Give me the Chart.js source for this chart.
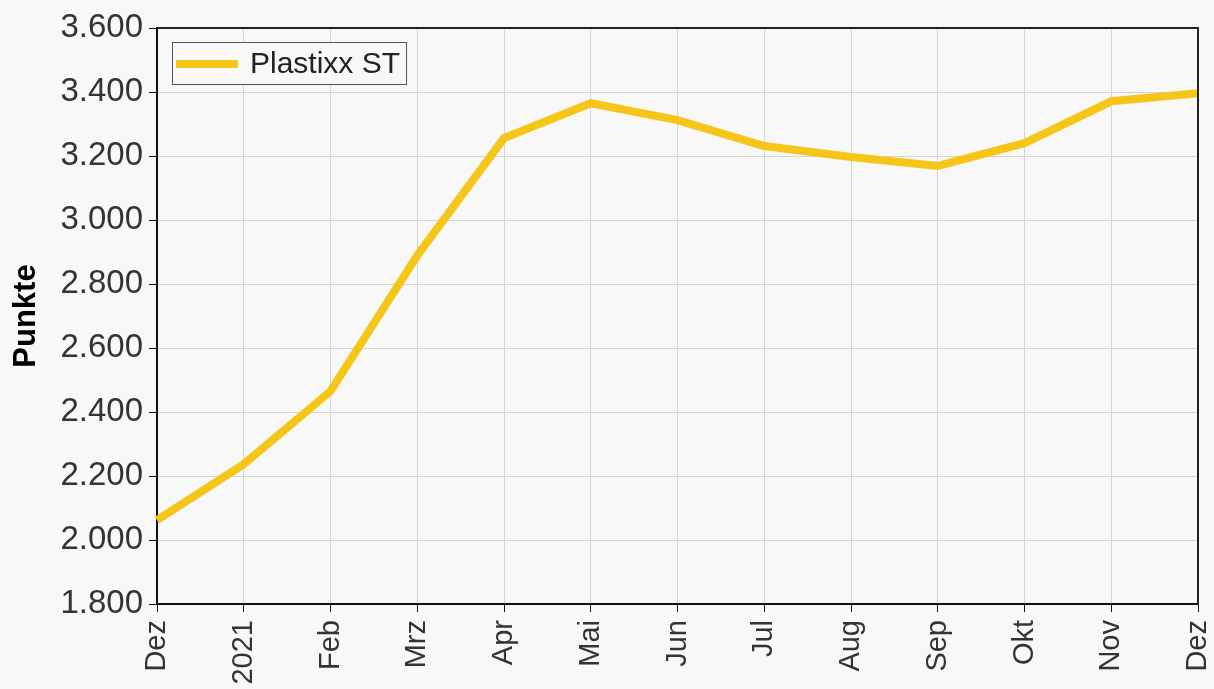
<!DOCTYPE html>
<html>
<head>
<meta charset="utf-8">
<script src="https://cdn.jsdelivr.net/npm/chart.js@4"></script>
<style>
  html, body { margin: 0; padding: 0; background: #f8f8f8; }
  #wrap { width: 1214px; height: 689px; }
</style>
</head>
<body>
<div id="wrap"><canvas id="chart" width="1214" height="689"></canvas></div>
<script>
// months, Dez 2020 .. Dez 2021
const months = ['Dez', '2021', 'Feb', 'Mrz', 'Apr', 'Mai', 'Jun', 'Jul', 'Aug', 'Sep', 'Okt', 'Nov', 'Dez'];
const plastixxST = [2062, 2237, 2465, 2889, 3256, 3365, 3312, 3231, 3197, 3169, 3240, 3371, 3396];
const seriesName = 'Plastixx ST';
const axisTitle = 'Punkte';

const fmt = v => v.toLocaleString('de-DE');
const FONT = '"Liberation Sans", Arial, sans-serif';

// frame + legend inside plot area
const framePlugin = {
  id: 'frame',
  afterDraw(chart) {
    const { ctx, chartArea: a } = chart;
    ctx.save();
    ctx.strokeStyle = '#222';
    ctx.lineWidth = 2;
    ctx.beginPath();
    ctx.moveTo(a.left, a.top);
    ctx.lineTo(a.right, a.top);
    ctx.lineTo(a.right, a.bottom);
    ctx.stroke();

    const ds = chart.data.datasets[0];
    const x = a.left + 15, y = a.top + 14;
    ctx.font = '30px ' + FONT;
    const w = ctx.measureText(ds.label).width + 84;
    ctx.fillStyle = '#f8f8f8';
    ctx.fillRect(x, y, w, 42);
    ctx.strokeStyle = '#555';
    ctx.lineWidth = 1;
    ctx.strokeRect(x + 0.5, y + 0.5, w, 42);
    ctx.strokeStyle = ds.borderColor;
    ctx.lineWidth = 8;
    ctx.beginPath();
    ctx.moveTo(x + 4, y + 22);
    ctx.lineTo(x + 66, y + 22);
    ctx.stroke();
    ctx.fillStyle = '#222';
    ctx.textBaseline = 'middle';
    ctx.fillText(ds.label, x + 78, y + 23);
    ctx.restore();
  }
};

new Chart(document.getElementById('chart'), {
  type: 'line',
  data: {
    labels: months,
    datasets: [{
      label: seriesName,
      data: plastixxST,
      borderColor: '#f5c518',
      borderWidth: 8,
      pointRadius: 0,
      tension: 0,
      fill: false
    }]
  },
  options: {
    responsive: false,
    animation: false,
    layout: { padding: { top: 28, right: 0, left: 0, bottom: 0 } },
    plugins: {
      legend: { display: false },
      tooltip: { enabled: false }
    },
    scales: {
      x: {
        offset: false,
        grid: { color: '#d4d4d4', lineWidth: 1, tickColor: '#111', tickLength: 8 },
        border: { color: '#111', width: 2 },
        ticks: {
          color: '#333',
          font: { family: FONT, size: 29 },
          minRotation: 90, maxRotation: 90,
          autoSkip: false,
          padding: 8
        },
        afterFit(s) {
          s.height = 85;
          s.paddingLeft = 0;
          s.paddingRight = 16;
        }
      },
      y: {
        min: 1800, max: 3600,
        grid: { color: '#d4d4d4', lineWidth: 1, tickColor: '#111', tickLength: 8 },
        border: { color: '#111', width: 2 },
        ticks: {
          stepSize: 200,
          color: '#333',
          font: { family: FONT, size: 33 },
          padding: 6,
          callback: v => fmt(v)
        },
        title: {
          display: true,
          text: axisTitle,
          color: '#000',
          font: { family: FONT, size: 31, weight: 'bold' },
          padding: { top: 8, bottom: 0 }
        },
        afterFit(s) { s.width = 157; }
      }
    }
  },
  plugins: [framePlugin]
});
</script>
</body>
</html>
